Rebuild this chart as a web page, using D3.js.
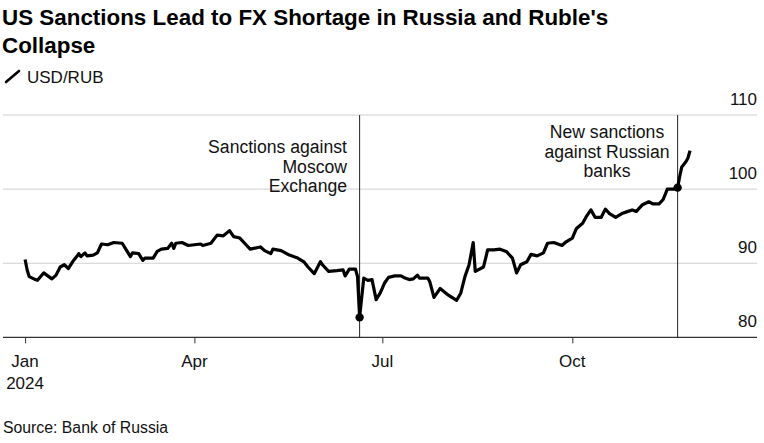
<!DOCTYPE html>
<html>
<head>
<meta charset="utf-8">
<script src="https://cdn.jsdelivr.net/npm/d3@7"></script>
<style>
  html, body { margin: 0; padding: 0; background: #fff; }
  svg { display: block; font-family: "Liberation Sans", Arial, sans-serif; }
</style>
</head>
<body>
<div id="chart"></div>
<script>
// USD/RUB official rate
var dates = [
  "2024-01-10","2024-01-11","2024-01-12","2024-01-15","2024-01-16","2024-01-19","2024-01-21","2024-01-23",
  "2024-01-25","2024-01-27","2024-01-29","2024-01-31","2024-02-02","2024-02-04","2024-02-05","2024-02-06",
  "2024-02-08","2024-02-09","2024-02-12","2024-02-14","2024-02-16","2024-02-19","2024-02-22","2024-02-26",
  "2024-02-28","2024-03-01","2024-03-02","2024-03-05","2024-03-07","2024-03-08","2024-03-12","2024-03-14",
  "2024-03-16","2024-03-19","2024-03-21","2024-03-22","2024-03-23","2024-03-26","2024-03-29","2024-04-01",
  "2024-04-04","2024-04-05","2024-04-09","2024-04-12","2024-04-15","2024-04-18","2024-04-20","2024-04-23",
  "2024-04-26","2024-04-28","2024-05-03","2024-05-05","2024-05-08","2024-05-09","2024-05-13","2024-05-17",
  "2024-05-21","2024-05-24","2024-05-26","2024-05-29","2024-06-01","2024-06-02","2024-06-05","2024-06-09",
  "2024-06-12","2024-06-13","2024-06-15","2024-06-18","2024-06-19","2024-06-20","2024-06-22","2024-06-24",
  "2024-06-26","2024-06-28","2024-06-30","2024-07-02","2024-07-04","2024-07-07","2024-07-10","2024-07-12",
  "2024-07-14","2024-07-16","2024-07-18","2024-07-19","2024-07-23","2024-07-24","2024-07-26","2024-07-29",
  "2024-08-02","2024-08-06","2024-08-08","2024-08-10","2024-08-12","2024-08-14","2024-08-15","2024-08-19",
  "2024-08-21","2024-08-24","2024-08-27","2024-08-30","2024-09-02","2024-09-04","2024-09-06","2024-09-09",
  "2024-09-11","2024-09-14","2024-09-17","2024-09-19","2024-09-22","2024-09-23","2024-09-26","2024-09-28",
  "2024-10-01","2024-10-03","2024-10-06","2024-10-08","2024-10-10","2024-10-12","2024-10-15","2024-10-17",
  "2024-10-19","2024-10-22","2024-10-25","2024-10-28","2024-10-30","2024-11-01","2024-11-04","2024-11-07",
  "2024-11-09","2024-11-12","2024-11-14","2024-11-16","2024-11-19","2024-11-21","2024-11-22","2024-11-23",
  "2024-11-25","2024-11-26","2024-11-27"
];
var usdRub = [
  90.5, 89.1, 88.2, 87.8, 87.7, 88.7, 88.3, 87.9,
  88.4, 89.5, 89.8, 89.3, 90.2, 90.9, 91.3, 90.9,
  91.4, 91.0, 91.1, 91.4, 92.6, 92.5, 92.8, 92.7,
  91.8, 90.9, 91.4, 91.3, 90.4, 90.7, 90.7, 91.6,
  91.9, 92.0, 92.7, 92.0, 92.7, 92.8, 92.4, 92.5,
  92.6, 92.4, 92.7, 93.8, 93.7, 94.4, 93.6, 93.4,
  92.5, 91.9, 92.2, 91.7, 91.3, 91.9, 91.7, 91.1,
  90.7, 90.2, 89.5, 88.6, 90.2, 89.8, 88.9, 89.0,
  89.1, 88.3, 89.2, 89.2, 88.2, 82.7, 88.0, 87.7,
  87.8, 85.1, 86.0, 87.3, 88.1, 88.3, 88.3, 88.0,
  87.8, 87.9, 88.4, 88.0, 88.0, 87.5, 85.4, 86.6,
  85.7, 85.0, 86.0, 88.2, 89.8, 92.8, 88.9, 89.5,
  91.8, 91.8, 91.9, 91.6, 90.7, 88.7, 89.8, 90.2,
  91.2, 91.0, 91.4, 92.7, 92.8, 92.7, 92.4, 92.9,
  93.4, 94.7, 95.4, 96.4, 97.2, 96.2, 96.2, 97.3,
  96.7, 96.2, 96.7, 97.0, 97.2, 97.0, 97.9, 98.3,
  98.0, 98.0, 98.6, 100.0, 100.0, 100.2, 101.7, 103.0,
  103.7, 104.2, 105.2
];
var yTicks = [80, 90, 100, 110];
var xTickDates = ["2024-01-10", "2024-04-01", "2024-07-01", "2024-10-01"];
var xTickLabels = [["Jan", "2024"], ["Apr"], ["Jul"], ["Oct"]];
var eventDates = ["2024-06-20", "2024-11-21"];
var eventLabels = [
  ["Sanctions against", "Moscow", "Exchange"],
  ["New sanctions", "against Russian", "banks"]
];

var W = 764, H = 443;
var plotL = 3, plotR = 757, plotT = 115, plotB = 337.4;
var parse = d3.timeParse("%Y-%m-%d");

var data = dates.map(function(d, i){ return {date: parse(d), value: usdRub[i]}; });

var x = d3.scaleTime()
  .domain([parse("2024-01-01"), parse("2025-01-01")])
  .range([6.5, 762.3]);
var y = d3.scaleLinear().domain([80, 110]).range([plotB, plotT]);

var svg = d3.select("#chart").append("svg")
  .attr("width", W)
  .attr("height", H);

// title + legend
svg.append("text").attr("x", 2).attr("y", 25)
  .attr("font-size", 22.4).attr("font-weight", "bold").attr("fill", "#000")
  .text("US Sanctions Lead to FX Shortage in Russia and Ruble's");
svg.append("text").attr("x", 2).attr("y", 53)
  .attr("font-size", 22.4).attr("font-weight", "bold").attr("fill", "#000")
  .text("Collapse");
svg.append("line")
  .attr("x1", 6).attr("y1", 82).attr("x2", 19).attr("y2", 71)
  .attr("stroke", "#000").attr("stroke-width", 2.6).attr("stroke-linecap", "round");
svg.append("text").attr("x", 27).attr("y", 83)
  .attr("font-size", 17).attr("fill", "#111").text("USD/RUB");

// gridlines and right hand labels
svg.selectAll(".grid").data(yTicks.filter(function(t){ return t > 80; }))
  .enter().append("line")
    .attr("class", "grid")
    .attr("x1", plotL).attr("x2", plotR)
    .attr("y1", function(d){ return y(d); })
    .attr("y2", function(d){ return y(d); })
    .attr("stroke", "#d0d0d0").attr("stroke-width", 1);

svg.selectAll(".ylab").data(yTicks)
  .enter().append("text")
    .attr("class", "ylab")
    .attr("x", plotR).attr("y", function(d){ return y(d) - 10.5; })
    .attr("text-anchor", "end").attr("font-size", 17).attr("fill", "#111")
    .text(function(d){ return d; });

// event lines
svg.selectAll(".event").data(eventDates)
  .enter().append("line")
    .attr("class", "event")
    .attr("x1", function(d){ return x(parse(d)); })
    .attr("x2", function(d){ return x(parse(d)); })
    .attr("y1", plotT).attr("y2", plotB)
    .attr("stroke", "#222").attr("stroke-width", 1);

// baseline + x axis
var xAxis = d3.axisBottom(x)
  .tickValues(xTickDates.map(parse))
  .tickSize(6)
  .tickFormat("");
var gx = svg.append("g").attr("transform", "translate(0," + plotB + ")").call(xAxis);
gx.select(".domain").remove();
gx.selectAll(".tick line").attr("stroke", "#333");
svg.append("line")
  .attr("x1", plotL).attr("x2", plotR).attr("y1", plotB).attr("y2", plotB)
  .attr("stroke", "#333").attr("stroke-width", 1.2);

xTickDates.forEach(function(d, i){
  var t = svg.append("text")
    .attr("x", x(parse(d))).attr("y", 366.5)
    .attr("text-anchor", "middle").attr("font-size", 17).attr("fill", "#111");
  xTickLabels[i].forEach(function(s, j){
    t.append("tspan").attr("x", x(parse(d))).attr("dy", j ? 22.5 : 0).text(s);
  });
});

// the series
var line = d3.line()
  .x(function(d){ return x(d.date); })
  .y(function(d){ return y(d.value); });
svg.append("path").datum(data)
  .attr("d", line)
  .attr("fill", "none").attr("stroke", "#000")
  .attr("stroke-width", 3.2).attr("stroke-linejoin", "round");

// dots where the events hit
var eventPts = data.filter(function(d){
  return eventDates.indexOf(d3.timeFormat("%Y-%m-%d")(d.date)) >= 0;
});
svg.selectAll(".dot").data(eventPts)
  .enter().append("circle")
    .attr("class", "dot")
    .attr("cx", function(d){ return x(d.date); })
    .attr("cy", function(d){ return y(d.value); })
    .attr("r", 4.2).attr("fill", "#000");

// annotations
var annAnchor = ["end", "middle"];
var annX = [347, 607];
var annY = [153.3, 138.3];
eventLabels.forEach(function(lines, i){
  var t = svg.append("text")
    .attr("y", annY[i]).attr("text-anchor", annAnchor[i])
    .attr("font-size", 17.6).attr("fill", "#111");
  lines.forEach(function(s, j){
    t.append("tspan").attr("x", annX[i]).attr("dy", j ? 19.5 : 0).text(s);
  });
});

svg.append("text").attr("x", 3).attr("y", 432.5)
  .attr("font-size", 15.8).attr("fill", "#111").text("Source: Bank of Russia");
</script>
</body>
</html>
